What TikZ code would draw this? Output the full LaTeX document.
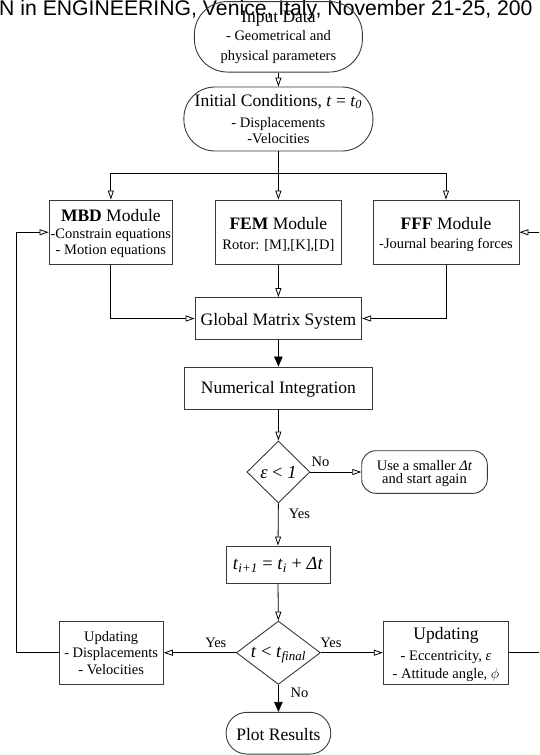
\documentclass[tikz,border=0pt]{standalone}
\usepackage{fontspec}
\setmainfont{Liberation Serif}
\newfontfamily\hdrfont{Liberation Sans}
\usetikzlibrary{arrows.meta,shapes.geometric}
\newcommand\bigf{\fontsize{17.5}{19}\selectfont}
\newcommand\smf{\fontsize{14.5}{16}\selectfont}
\newcommand\mathf{\fontsize{18.5}{20}\selectfont}
\newcommand\up[1]{\rule{0pt}{#1}}
\definecolor{edgec}{gray}{0.22}
\begin{document}
\begin{tikzpicture}[x=1pt,y=-1pt,
  shp/.style={draw=edgec, line width=0.9pt, inner sep=0pt, align=center, font=\smf},
  box/.style={shp, rectangle},
  term/.style={shp, rectangle, rounded corners=#1},
  oarr/.style={draw=black, line width=0.8pt, -{Triangle[open, length=9pt, width=6pt]}},
  farr/.style={draw=black, line width=0.8pt, -{Triangle[length=10pt, width=8.5pt]}},
  plain/.style={draw=black, line width=0.8pt},
  lbl/.style={font=\smf, inner sep=0pt}
]
\useasboundingbox (0,0) rectangle (539,755);
\clip (0,0) rectangle (539,755);

% header
\node[font=\hdrfont\fontsize{21.2}{24}\selectfont, anchor=base west, inner sep=0pt] (hdr) at (-1,15.2) {N in ENGINEERING, Venice, Italy, November 21-25, 200};

% nodes
\node[term=33pt, minimum width=168pt, minimum height=70.5pt] (inp) at (278.4,36.8)
  {{\bigf\up{13pt}Input Data}\\[2pt]- Geometrical and\\[3.7pt]physical parameters};
\node[term=31pt, minimum width=189pt, minimum height=64pt] (init) at (278.4,119)
  {{\bigf Initial Conditions, \textit{t} = \textit{t}\textsubscript{\textit{0}}}\\[5pt]- Displacements\\[0.7pt]-Velocities};

\node[box, minimum width=123.7pt, minimum height=64.5pt] (mbd) at (110.85,232.25)
  {{\bigf\up{14pt}\textbf{MBD} Module}\\[1.3pt]-Constrain equations\\- Motion equations};
\node[box, minimum width=126pt, minimum height=64.5pt] (fem) at (278.4,232.25)
  {{\bigf\up{17pt}\textbf{FEM} Module}\\[3.6pt]Rotor: [M],[K],[D]};
\node[box, minimum width=146pt, minimum height=64.5pt] (fff) at (446,232.25)
  {{\bigf\up{17pt}\textbf{FFF} Module}\\[3.6pt]-Journal bearing forces};

\node[box, font=\bigf, minimum width=166.6pt, minimum height=42pt] (glob) at (278.4,318.5) {\up{17pt}Global Matrix System};
\node[box, font=\bigf, minimum width=188.7pt, minimum height=42pt] (num) at (278.4,388) {\up{14.4pt}Numerical Integration};

\node[shp, diamond, aspect=1, minimum width=63pt, minimum height=62pt, font=\mathf] (d1) at (278.4,472) {\textit{ε} < \textit{1}};
\node[term=14pt, minimum width=125.6pt, minimum height=42.6pt] (retry) at (424.5,472)
  {\up{13.4pt}Use a smaller \textit{Δt}\\[-2.3pt]and start again};

\node[box, minimum width=104pt, minimum height=37.3pt, font=\mathf] (tstep) at (278,564.7)
  {\textit{t}\textsubscript{\textit{i+1}} = \textit{t}\textsubscript{\textit{i}} + \textit{Δt}};

\node[shp, diamond, aspect=1.325, minimum width=84pt, minimum height=63.4pt, font=\mathf] (d2) at (278.4,652.7)
  {\up{14.7pt}\textit{t} < \textit{t}\textsubscript{\textit{final}}};

\node[box, minimum width=104.3pt, minimum height=63.4pt] (updL) at (111.2,652.7)
  {Updating\\[0.2pt]- Displacements\\[1pt]- Velocities};
\node[box, minimum width=125.5pt, minimum height=63.4pt] (updR) at (446,652.7)
  {{\bigf\up{16.5pt}Updating}\\[4.6pt]- Eccentricity, \textit{ε}\\[2.2pt]- Attitude angle, $\phi$};

\node[term=20.8pt, minimum width=104.7pt, minimum height=41.7pt, font=\bigf] (plot) at (278.4,733.2) {\up{15.6pt}Plot Results};

% labels
\node[lbl] (no1) at (320.5,461.7) {No};
\node[lbl] (yes1) at (299.5,514) {Yes};
\node[lbl] (yes2) at (215.8,642.5) {Yes};
\node[lbl] (yes3) at (331,642.5) {Yes};
\node[lbl] (no2) at (299.5,692.7) {No};

% helper coordinates
\coordinate (split) at (278.4,173.6);
\coordinate (cl) at (16.5,652.7);
\coordinate (cr) at (546,652.7);

% connectors
\draw[oarr] (inp.south) -- (init.north);
\draw[plain] (init.south) -- (split);
\draw[oarr] (split) -| (mbd.north);
\draw[oarr] (split) -- (fem.north);
\draw[oarr] (split) -| (fff.north);
\draw[oarr] (mbd.south) |- (glob.west);
\draw[oarr] (fem.south) -- (glob.north);
\draw[oarr] (fff.south) |- (glob.east);
\draw[farr] (glob.south) -- (num.north);
\draw[oarr] (num.south) -- (d1.north);
\draw[oarr] (d1.east) -- (retry.west);
\draw[oarr] (d1.south) -- (tstep.north);
\draw[oarr] (tstep.south) -- (d2.north);
\draw[oarr] (d2.west) -- (updL.east);
\draw[oarr] (d2.east) -- (updR.west);
\draw[farr] (d2.south) -- (plot.north);
\draw[oarr] (updL.west) -- (cl) |- (mbd.west);
\draw[oarr] (updR.east) -- (cr) |- (fff.east);
\end{tikzpicture}
\end{document}
